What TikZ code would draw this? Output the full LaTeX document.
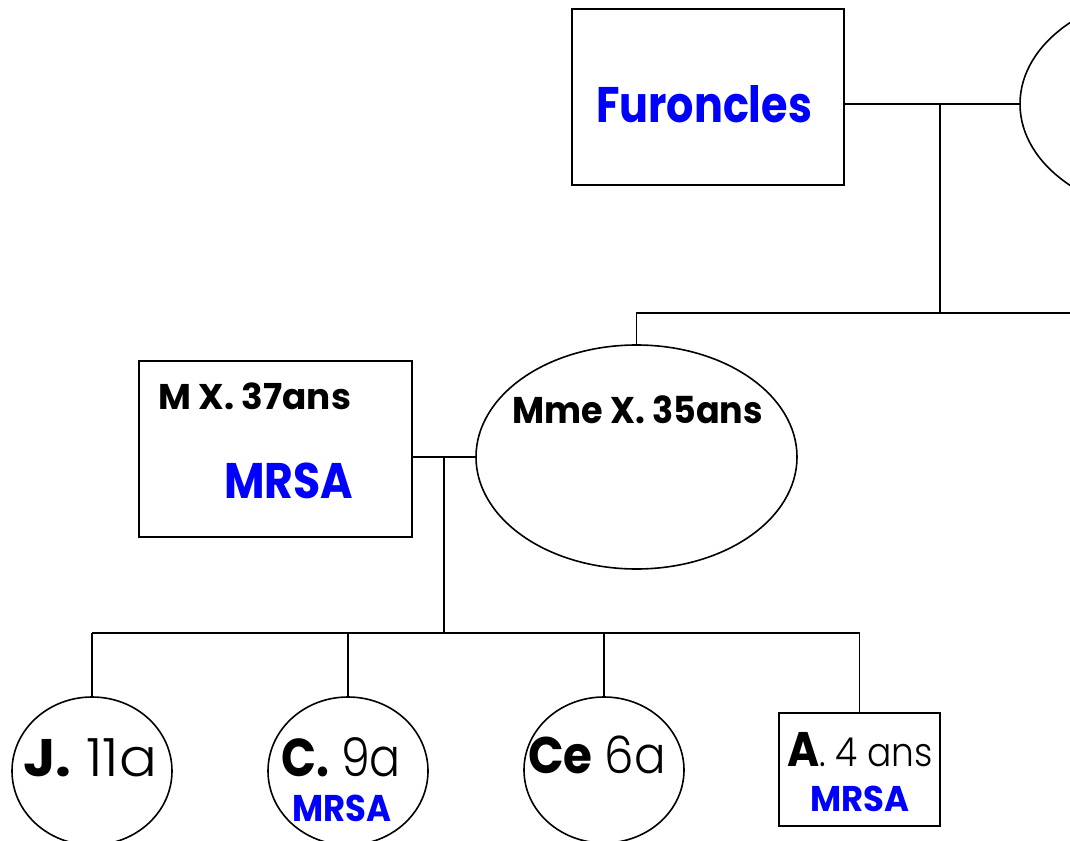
\documentclass[tikz,border=0pt]{standalone}
\usepackage{fontspec}
\setmainfont{Poppins}
\newfontfamily\lightf{Poppins Light}
\usepackage{graphicx}
\usetikzlibrary{shapes.geometric}
\newlength\pxu \setlength\pxu{0.75pt}
\newcommand\fitw[2]{\resizebox{#2\pxu}{\height}{#1}}
\newcommand\fs[1]{\fontsize{#1}{#1}\selectfont}
\definecolor{mblue}{RGB}{0,0,255}
\begin{document}
\begin{tikzpicture}[x=0.75pt,y=-0.75pt,line width=1.2pt,
  box/.style={draw,rectangle,inner sep=0pt,outer sep=0pt},
  oval/.style={draw,ellipse,inner sep=0pt,outer sep=0pt},
  lbl/.style={anchor=base west,inner sep=0pt,outer sep=0pt},
  link/.style={line width=1.2pt}]
\useasboundingbox (0,0) rectangle (1070,841);
\clip (0,0) rectangle (1070,841);
% shapes
\node[box,minimum width=272*0.75pt,minimum height=176*0.75pt] (fur) at (708,97) {};
\node[oval,minimum width=320*0.75pt,minimum height=224*0.75pt] (topell) at (1180,104) {};
\node[box,minimum width=273*0.75pt,minimum height=176*0.75pt] (mx) at (275.5,449) {};
\node[oval,minimum width=321*0.75pt,minimum height=224*0.75pt] (mme) at (636.5,457) {};
\node[oval,minimum width=160*0.75pt,minimum height=148*0.75pt] (cj) at (92,771) {};
\node[oval,minimum width=160*0.75pt,minimum height=148*0.75pt] (cc) at (348,771) {};
\node[oval,minimum width=160*0.75pt,minimum height=146*0.75pt] (cce) at (604,770) {};
\node[box,minimum width=161*0.75pt,minimum height=113*0.75pt] (ca) at (859.5,769.5) {};
% labels
\node[lbl] (tfur) at (596,123) {\fitw{\fs{37.5}\bfseries\color{mblue}Furoncles}{216}};
\node[lbl] (tmx) at (158,409) {\fitw{\fs{26.8}\bfseries M X. 37ans}{193}};
\node[lbl] (tmxm) at (224,498) {\fitw{\fs{37.5}\bfseries\color{mblue}MRSA}{129}};
\node[lbl] (tmme) at (512,423) {\fitw{\fs{27.9}\bfseries Mme X. 35ans}{251}};
\node[lbl] (tj) at (23,776) {\fitw{\fs{39.6}{\bfseries J.} {\lightf 11a}}{134}};
\node[lbl] (tc) at (281,776) {\fitw{\fs{40}{\bfseries C.} {\lightf 9a}}{120}};
\node[lbl] (tcm) at (292,821) {\fitw{\fs{27.9}\bfseries\color{mblue}MRSA}{99}};
\node[lbl] (tce) at (528,773) {\fitw{\fs{38.6}{\bfseries Ce} {\lightf 6a}}{138}};
\node[lbl] (ta) at (787,766) {\fitw{{\fs{36.4}\bfseries A}{\fs{30}\lightf . 4 ans}}{146}};
\node[lbl] (tam) at (810,811) {\fitw{\fs{26.8}\bfseries\color{mblue}MRSA}{99}};
% connectors
\coordinate (j1) at (940,104);
\coordinate (g1) at (940,313);
\coordinate (g1r) at (1075,313);
\coordinate (j2) at (444,457);
\coordinate (g2) at (444,633);
\draw[link] (fur.east |- j1) -- (topell.west);
\draw[link] (j1) -- (g1);
\draw[link] (g1) -- (g1r);
\draw[link] (g1) -| (mme.north);
\draw[link] (mx.east |- mme.west) -- (mme.west);
\draw[link] (j2) -- (g2);
\draw[link] (cj.north |- g2) -- (ca.north |- g2);
\draw[link] (cj.north |- g2) -- (cj.north);
\draw[link] (cc.north |- g2) -- (cc.north);
\draw[link] (cce.north |- g2) -- (cce.north);
\draw[link] (ca.north |- g2) -- (ca.north);
\end{tikzpicture}
\end{document}
